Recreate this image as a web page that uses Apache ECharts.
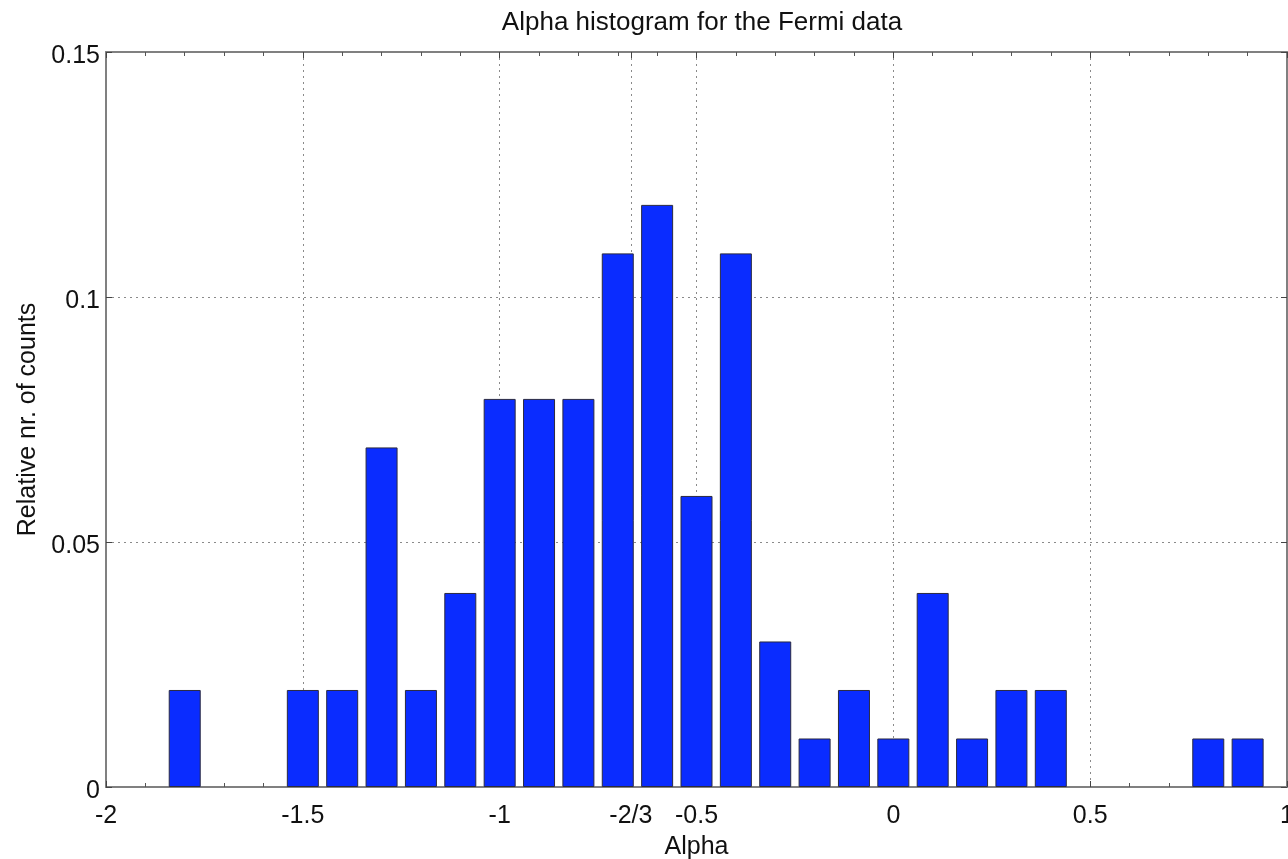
<!DOCTYPE html>
<html>
<head>
<meta charset="utf-8">
<script src="https://cdn.jsdelivr.net/npm/echarts@6/dist/echarts.min.js"></script>
<style>
html,body{margin:0;padding:0;background:#fff;}
#chart{width:1288px;height:859px;}
</style>
</head>
<body>
<div id="chart"></div>
<script>
// Bin centres (Alpha) and relative counts
var binCenters = [-1.8, -1.5, -1.4, -1.3, -1.2, -1.1, -1.0, -0.9, -0.8, -0.7, -0.6, -0.5, -0.4, -0.3, -0.2, -0.1, 0.0, 0.1, 0.2, 0.3, 0.4, 0.8, 0.9];
var relCounts  = [0.0198, 0.0198, 0.0198, 0.0693, 0.0198, 0.0396, 0.0792, 0.0792, 0.0792, 0.1089, 0.1188, 0.0594, 0.1089, 0.0297, 0.0099, 0.0198, 0.0099, 0.0396, 0.0099, 0.0198, 0.0198, 0.0099, 0.0099];
var xTickValues = [-2, -1.5, -1, -2/3, -0.5, 0, 0.5, 1];
var yTickLabels = ['0', '0.05', '0.1', '0.15'];

var FONT = 'Liberation Sans';
var TXT = '#111111';

function xFmt(v) {
  if (Math.abs(v + 2/3) < 1e-6) return '-2/3';
  return String(Math.round(v * 100) / 100);
}

var chart = echarts.init(document.getElementById('chart'), null, {renderer: 'canvas'});
var axisLine = {show: true, onZero: false, lineStyle: {color: '#808080', width: 2}};
var option = {
  animation: false,
  backgroundColor: '#ffffff',
  title: {
    text: 'Alpha histogram for the Fermi data',
    left: 697, top: 5, textAlign: 'center',
    textStyle: {fontFamily: FONT, fontSize: 26, fontWeight: 'normal', color: TXT}
  },
  grid: {left: 106, right: 1, top: 52, bottom: 72, containLabel: false, outerBoundsMode: 'none'},
  xAxis: [{
    type: 'value', position: 'bottom', min: -2, max: 1, interval: 0.5,
    name: 'Alpha', nameLocation: 'middle', nameGap: 48,
    nameTextStyle: {fontFamily: FONT, fontSize: 25, color: TXT},
    axisLine: axisLine,
    axisTick: {show: true, inside: true, length: 6, customValues: xTickValues, lineStyle: {color: '#444', width: 1}},
    minorTick: {show: true, splitNumber: 5, length: 4, lineStyle: {color: '#555', width: 1}},
    axisLabel: {customValues: xTickValues, formatter: xFmt, margin: 17, fontFamily: FONT, fontSize: 25, color: TXT, hideOverlap: false},
    splitLine: {show: true, lineStyle: {type: [2, 4], color: '#8a8a8a', width: 1}}
  }, {
    type: 'value', position: 'top', min: -2, max: 1, interval: 0.5,
    axisLine: axisLine,
    axisTick: {show: true, inside: true, length: 6, customValues: xTickValues, lineStyle: {color: '#444', width: 1}},
    minorTick: {show: true, splitNumber: 5, length: 4, lineStyle: {color: '#555', width: 1}},
    axisLabel: {show: false},
    splitLine: {show: false}
  }],
  yAxis: [{
    type: 'value', position: 'left', min: 0, max: 0.15, interval: 0.05,
    name: 'Relative nr. of counts', nameLocation: 'middle', nameGap: 64, nameRotate: 90,
    nameTextStyle: {fontFamily: FONT, fontSize: 25, color: TXT},
    axisLine: axisLine,
    axisTick: {show: true, inside: true, length: 6, lineStyle: {color: '#444', width: 1}},
    axisLabel: {
      margin: 6, fontFamily: FONT, fontSize: 25, color: TXT, verticalAlign: 'top', lineHeight: 9,
      formatter: function (v) { return yTickLabels[Math.round(v / 0.05)]; }
    },
    splitLine: {show: true, lineStyle: {type: [2, 4], color: '#8a8a8a', width: 1}}
  }, {
    type: 'value', position: 'right', min: 0, max: 0.15, interval: 0.05,
    axisLine: axisLine,
    axisTick: {show: true, inside: true, length: 6, lineStyle: {color: '#444', width: 1}},
    axisLabel: {show: false},
    splitLine: {show: false}
  }],
  series: [{
    type: 'bar',
    xAxisIndex: 0, yAxisIndex: 0,
    barWidth: 32,
    itemStyle: {color: '#0a2cff', borderColor: '#2a2a40', borderWidth: 1},
    data: binCenters.map(function (x, i) { return [x, relCounts[i]]; })
  }]
};
chart.setOption(option);
</script>
</body>
</html>
